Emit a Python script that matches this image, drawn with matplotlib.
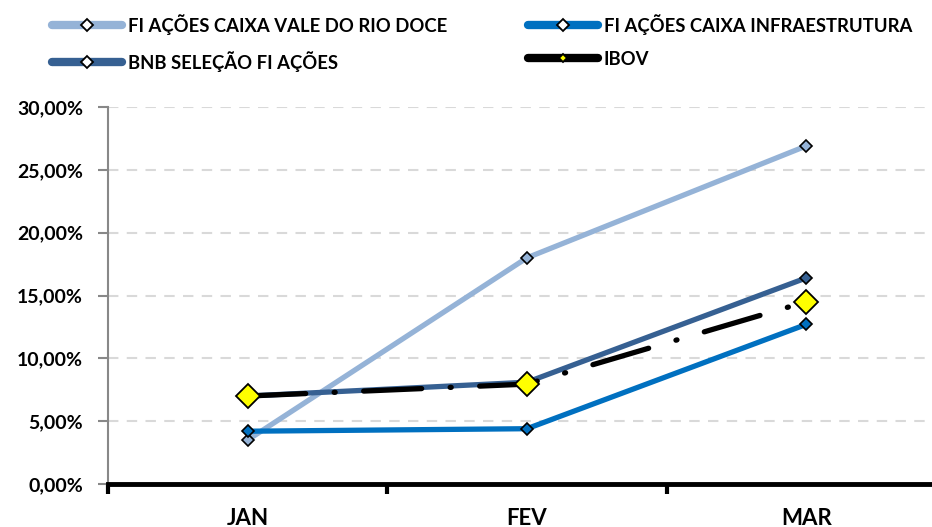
import matplotlib
matplotlib.use("Agg")
import matplotlib.pyplot as plt
from matplotlib.lines import Line2D
from matplotlib.ticker import FuncFormatter

plt.rcParams['font.family'] = ['Lato', 'DejaVu Sans']

months = ["JAN", "FEV", "MAR"]
vale = [3.5, 18.0, 26.9]
infra = [4.2, 4.4, 12.7]
bnb = [7.0, 8.1, 16.4]
ibov = [7.0, 7.95, 14.5]
yticks = [0, 5, 10, 15, 20, 25, 30]

c_vale = "#95B3D7"
c_infra = "#0070C0"
c_bnb = "#366092"

fig = plt.figure(figsize=(9.32, 5.27), dpi=100)
ax = fig.add_axes([108/932, 43/527, 1 - 108/932, (484-107)/527])

x = list(range(len(months)))
lw = 3.8
ms = 6.5
ax.plot(x, vale, color=c_vale, lw=lw, marker='D', ms=ms, mfc=c_vale, mec='black', mew=1.2, zorder=3)
ax.plot(x, infra, color=c_infra, lw=lw, marker='D', ms=ms, mfc=c_infra, mec='black', mew=1.2, zorder=3)
ax.plot(x, bnb, color=c_bnb, lw=lw, marker='D', ms=ms, mfc=c_bnb, mec='black', mew=1.2, zorder=4)
ax.plot(x, ibov, color='black', lw=lw, dashes=(11, 5.4, 0.2, 5.4), dash_capstyle='round',
        zorder=5)
ax.plot(x, ibov, linestyle='none', marker='D', ms=12.3, mfc='#FFFF00', mec='black', mew=1.3, zorder=6)

ax.set_xlim(-0.5, 2.45)
ax.set_ylim(0, 30)
ax.set_yticks(yticks)
ax.yaxis.set_major_formatter(FuncFormatter(lambda v, p: f"{v:.2f}%".replace('.', ',')))
ax.set_xticks(x)
ax.set_xticklabels(months)
ax.set_xticks([-0.5, 0.5, 1.5], minor=True)
ax.tick_params(axis='x', which='major', length=0, pad=17, labelsize=16)
ax.tick_params(axis='x', which='minor', length=7, width=3, color='black', direction='out')
ax.tick_params(axis='y', length=7, width=1.5, color='#888888', labelsize=14, pad=11)
for lab in ax.get_xticklabels() + ax.get_yticklabels():
    lab.set_fontweight('bold')

ax.grid(axis='y', color='#D9D9D9', lw=1.5, dashes=(5, 4))
ax.set_axisbelow(True)
for s in ['top', 'right']:
    ax.spines[s].set_visible(False)
ax.spines['left'].set_color('#888888')
ax.spines['left'].set_linewidth(1.5)
ax.spines['bottom'].set_color('black')
ax.spines['bottom'].set_linewidth(3.5)
ax.spines['bottom'].set_zorder(7)

def handle(c, mfc, ms=6):
    return Line2D([], [], color=c, lw=6, marker='D', ms=ms, mfc=mfc, mec='black', mew=1.3,
                  solid_capstyle='round')

kw = dict(frameon=False, handlelength=3.8, handletextpad=0.3, labelspacing=0.86,
          prop={'weight': 'bold', 'size': 13.3}, loc='upper left', borderaxespad=0, borderpad=0)
leg1 = fig.legend([handle(c_vale, 'white'), handle(c_bnb, 'white')],
                  ["FI AÇÕES CAIXA VALE DO RIO DOCE", "BNB SELEÇÃO FI AÇÕES"],
                  bbox_to_anchor=(52/932, 1 - 14/527), **kw)
leg2 = fig.legend([handle(c_infra, 'white'), handle('black', '#FFFF00', ms=4.5)],
                  ["FI AÇÕES CAIXA INFRAESTRUTURA", "IBOV"],
                  bbox_to_anchor=(528/932, 1 - 14/527), **kw)

fig.savefig("out.png", dpi=100)
